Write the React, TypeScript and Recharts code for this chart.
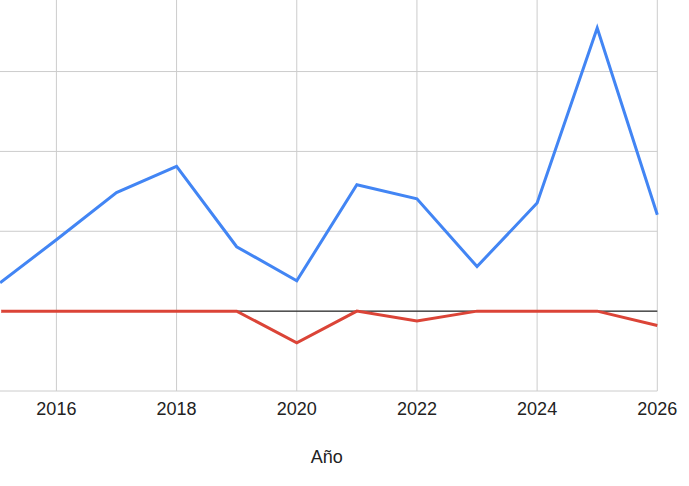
import React from 'react';
import { LineChart, Line, XAxis, YAxis, CartesianGrid, ReferenceLine } from 'recharts';

const years = [2015, 2016, 2017, 2018, 2019, 2020, 2021, 2022, 2023, 2024, 2025, 2026];
const serieA = [15.9, 44.7, 74.2, 90.6, 40.3, 19.0, 79.1, 70.3, 27.9, 67.7, 177.3, 60.3];
const serieB = [0, 0, 0, 0, 0, -19.9, 0, -6.1, 0, 0, 0, -9.0];
const xTicks = [2016, 2018, 2020, 2022, 2024, 2026];
const yTicks = [-50, 0, 50, 100, 150, 200];

const data = years.map((y, i) => ({ year: y, a: serieA[i], b: serieB[i] }));

const font = '"Liberation Sans", Arial, sans-serif';

export default function App() {
  return (
    <div style={{ position: 'absolute', left: 0, top: 0, width: 689, height: 486, overflow: 'hidden', background: '#fff' }}>
      <div style={{ position: 'absolute', left: -20, top: -20 }}>
        <LineChart
          width={700}
          height={506}
          data={data}
          margin={{ top: 11.7, left: 16.3, right: 22.7, bottom: 20 }}
        >
          <CartesianGrid stroke="#cccccc" strokeWidth={1} />
          <XAxis
            dataKey="year"
            type="number"
            domain={[2015, 2026]}
            ticks={xTicks}
            axisLine={false}
            tickLine={false}
            tickSize={0}
            tickMargin={11}
            height={75}
            tick={{ fill: '#222222', fontSize: 18, fontFamily: font }}
            label={{ value: 'Año', position: 'insideBottom', offset: 3, fill: '#222222', fontSize: 18, fontFamily: font }}
          />
          <YAxis hide domain={[-50, 200]} ticks={yTicks} type="number" />
          <ReferenceLine y={0} stroke="#000000" strokeWidth={1} />
          <Line type="linear" dataKey="a" stroke="#4285f4" strokeWidth={3} dot={false} isAnimationActive={false} />
          <Line type="linear" dataKey="b" stroke="#db4437" strokeWidth={3} dot={false} isAnimationActive={false} />
        </LineChart>
      </div>
    </div>
  );
}
